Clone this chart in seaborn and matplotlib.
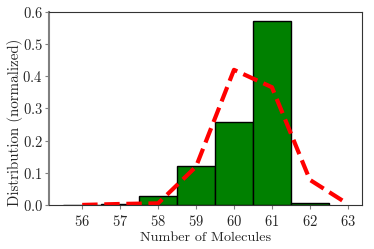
import numpy as np
import seaborn as sns
import matplotlib
matplotlib.use('Agg')
import matplotlib.pyplot as plt

# histogram (normalized) - bins of width 1 centered on integers
bin_centers = [56, 57, 58, 59, 60, 61, 62]
bin_heights = [0.001, 0.002, 0.027, 0.121, 0.259, 0.572, 0.006]
bin_edges = [55.5, 56.5, 57.5, 58.5, 59.5, 60.5, 61.5, 62.5]

# reference distribution (dashed)
ref_x = [56, 57, 58, 59, 60, 61, 62, 63]
ref_y = [0.0, 0.003, 0.005, 0.119, 0.42, 0.366, 0.078, 0.003]

sns.set_style('ticks')
plt.rcParams['font.family'] = 'serif'
plt.rcParams['font.serif'] = ['cmr10']
plt.rcParams['mathtext.fontset'] = 'cm'
plt.rcParams['axes.formatter.use_mathtext'] = True
plt.rcParams['font.size'] = 10

fig, ax = plt.subplots(figsize=(3.74, 2.49), dpi=100)

sns.histplot(x=bin_centers, weights=bin_heights, bins=bin_edges, stat='count',
             color='green', edgecolor='black', linewidth=1, alpha=1, ax=ax)
sns.lineplot(x=ref_x, y=ref_y, color='red', linestyle='--', linewidth=3, ax=ax)

ax.set_xticks(ref_x)
ax.set_yticks([0.0, 0.1, 0.2, 0.3, 0.4, 0.5, 0.6])
ax.set_ylim(0, 0.6)
ax.set_xlabel('Number of Molecules', fontsize=10.2, labelpad=2)
ax.set_ylabel('Distribution (normalized)', fontsize=10.8)
ax.yaxis.set_label_coords(-0.083, 0.43)
ax.tick_params(length=3, color='gray', labelsize=10.5)
ax.tick_params(axis='y', pad=1.5)

for side in ['top', 'right', 'bottom']:
    ax.spines[side].set_color('.2')
ax.spines['left'].set_color('gray')
ax.spines['left'].set_linewidth(1.5)

plt.subplots_adjust(left=0.131, right=0.968, top=0.952, bottom=0.177)
plt.savefig('out.png', dpi=100)
